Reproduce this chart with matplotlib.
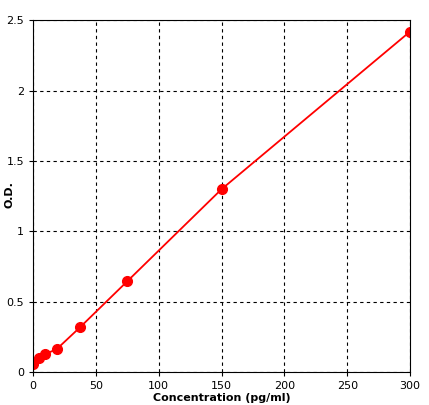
import matplotlib
matplotlib.use("Agg")
import matplotlib.pyplot as plt

conc = [0, 4.69, 9.38, 18.75, 37.5, 75, 150, 300]
od = [0.057, 0.10, 0.128, 0.163, 0.32, 0.646, 1.30, 2.42]

fig = plt.figure(figsize=(4.29, 4.05), dpi=100)
ax = fig.add_axes([0.077, 0.081, 0.879, 0.869])
ax.plot(conc, od, color='red', lw=1.3, marker='o', ms=7, mec='red', mfc='red')
ax.set_xlim(0, 300)
ax.set_ylim(0, 2.5)
ax.set_xticks([0, 50, 100, 150, 200, 250, 300])
ax.set_yticks([0, 0.5, 1, 1.5, 2, 2.5])
ax.set_yticklabels(['0', '0.5', '1', '1.5', '2', '2.5'])
ax.grid(True, color='black', linestyle=(0, (3, 3)), lw=0.8)
ax.tick_params(labelsize=8, length=3)
ax.set_xlabel('Concentration (pg/ml)', fontsize=8, fontweight='bold', labelpad=1)
fig.text(0.022, 0.52, 'O.D.', fontsize=8, fontweight='bold', rotation=90, ha='center', va='center')
fig.savefig('out.png', dpi=100)
